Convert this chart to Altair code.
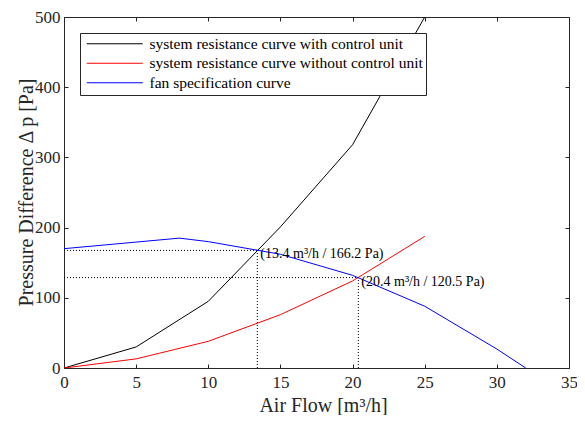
import altair as alt
import pandas as pd

# ---- data ----
flow = [0, 5, 10, 15, 20, 25]
p_with_cu = [0, 30, 95, 201, 318, 500]
p_without_cu = [0, 13, 38, 76, 124, 187.5]
fan_flow = [0, 8, 10, 15, 20, 25, 30, 32]
fan_p = [170, 185, 180, 162, 132, 88, 27, 0]

s_with = "system resistance curve with control unit"
s_without = "system resistance curve without control unit"
s_fan = "fan specification curve"
series_names = [s_with, s_without, s_fan]
series_colors = ["#000000", "#ff0000", "#0000ff"]

op_flow = [13.4, 20.4]
op_p = [167.5, 128.8]
op_labels = ["(13.4 m³/h / 166.2 Pa)", "(20.4 m³/h / 120.5 Pa)"]

x_ticks = [0, 5, 10, 15, 20, 25, 30, 35]
y_ticks = [0, 100, 200, 300, 400, 500]

# ---- tables ----
rows = []
for i, (f, p) in enumerate(zip(flow, p_with_cu)):
    rows.append({"flow": f, "p": p, "series": s_with, "order": i})
for i, (f, p) in enumerate(zip(flow, p_without_cu)):
    rows.append({"flow": f, "p": p, "series": s_without, "order": i})
for i, (f, p) in enumerate(zip(fan_flow, fan_p)):
    rows.append({"flow": f, "p": p, "series": s_fan, "order": i})
lines_df = pd.DataFrame(rows)

op_df = pd.DataFrame({"flow": op_flow, "p": op_p, "label": op_labels,
                      "zero": [0] * len(op_flow)})

FONT = "Liberation Serif"
AX = "#262626"
xscale = alt.Scale(domain=[0, 35], nice=False, zero=False)
yscale = alt.Scale(domain=[0, 500], nice=False, zero=False)

common_axis = dict(domain=False, grid=False, tickSize=4, offset=-4, tickColor=AX,
                   labelFont=FONT, labelFontSize=17, labelColor=AX, labelFlush=False,
                   labelOverlap=False,
                   titleFont=FONT, titleFontSize=20, titleColor=AX, titleFontWeight="normal",
                   titleBaseline="alphabetic")

x_bottom = alt.Axis(values=x_ticks, orient="bottom", title="Air Flow [m³/h]",
                    labelPadding=6, titleY=47, titleX=259, **common_axis)
y_left = alt.Axis(values=y_ticks, orient="left", title="Pressure Difference Δ p [Pa]",
                  labelPadding=4, titleX=-36, titleY=175, titleAngle=270, **common_axis)
x_top = alt.Axis(values=x_ticks, orient="top", labels=False, title=None, domain=False,
                 grid=False, tickSize=4, offset=-4, tickColor=AX)
y_right = alt.Axis(values=y_ticks, orient="right", labels=False, title=None, domain=False,
                   grid=False, tickSize=4, offset=-4, tickColor=AX)

lines = alt.Chart(lines_df).mark_line(strokeWidth=1, clip=True).encode(
    x=alt.X("flow:Q", scale=xscale, axis=x_bottom),
    y=alt.Y("p:Q", scale=yscale, axis=y_left),
    color=alt.Color("series:N",
                    scale=alt.Scale(domain=series_names, range=series_colors),
                    legend=alt.Legend(orient="none", legendX=16, legendY=16, title=None,
                                      symbolType="M-1,0H13", symbolSize=64,
                                      symbolStrokeWidth=1, labelOffset=51,
                                      labelFont=FONT, labelFontSize=15.5, labelColor="#000",
                                      labelLimit=500, padding=3, rowPadding=2.5,
                                      strokeColor=AX, fillColor="white",
                                      cornerRadius=0)),
    order="order:Q",
)

hrule = alt.Chart(op_df).mark_rule(color="black", strokeWidth=1, strokeDash=[1, 2]).encode(
    x=alt.X("zero:Q", scale=xscale, axis=x_top),
    x2="flow:Q",
    y=alt.Y("p:Q", scale=yscale, axis=y_right),
)

vrule = alt.Chart(op_df).mark_rule(color="black", strokeWidth=1, strokeDash=[1, 2]).encode(
    x=alt.X("flow:Q", scale=xscale, axis=None),
    y=alt.Y("zero:Q", scale=yscale, axis=None),
    y2="p:Q",
)

labels = alt.Chart(op_df).mark_text(align="left", baseline="middle", dx=3, dy=4,
                                    font=FONT, fontSize=14, color="#000").encode(
    x=alt.X("flow:Q", scale=xscale, axis=None),
    y=alt.Y("p:Q", scale=yscale, axis=None),
    text="label:N",
)

chart = alt.layer(hrule, vrule, lines, labels).resolve_axis(
    x="independent", y="independent"
).properties(
    width=505, height=351,
    autosize=alt.AutoSizeParams(type="none"),
    padding={"left": 56, "top": 9, "right": 8, "bottom": 47},
).configure_axis(
    labelFont=FONT, titleFont=FONT
).configure_legend(
    labelFont=FONT
).configure_text(
    font=FONT
).configure_view(stroke=AX, strokeWidth=1)

chart.save("out.html", embed_options={"renderer": "svg", "actions": False})
